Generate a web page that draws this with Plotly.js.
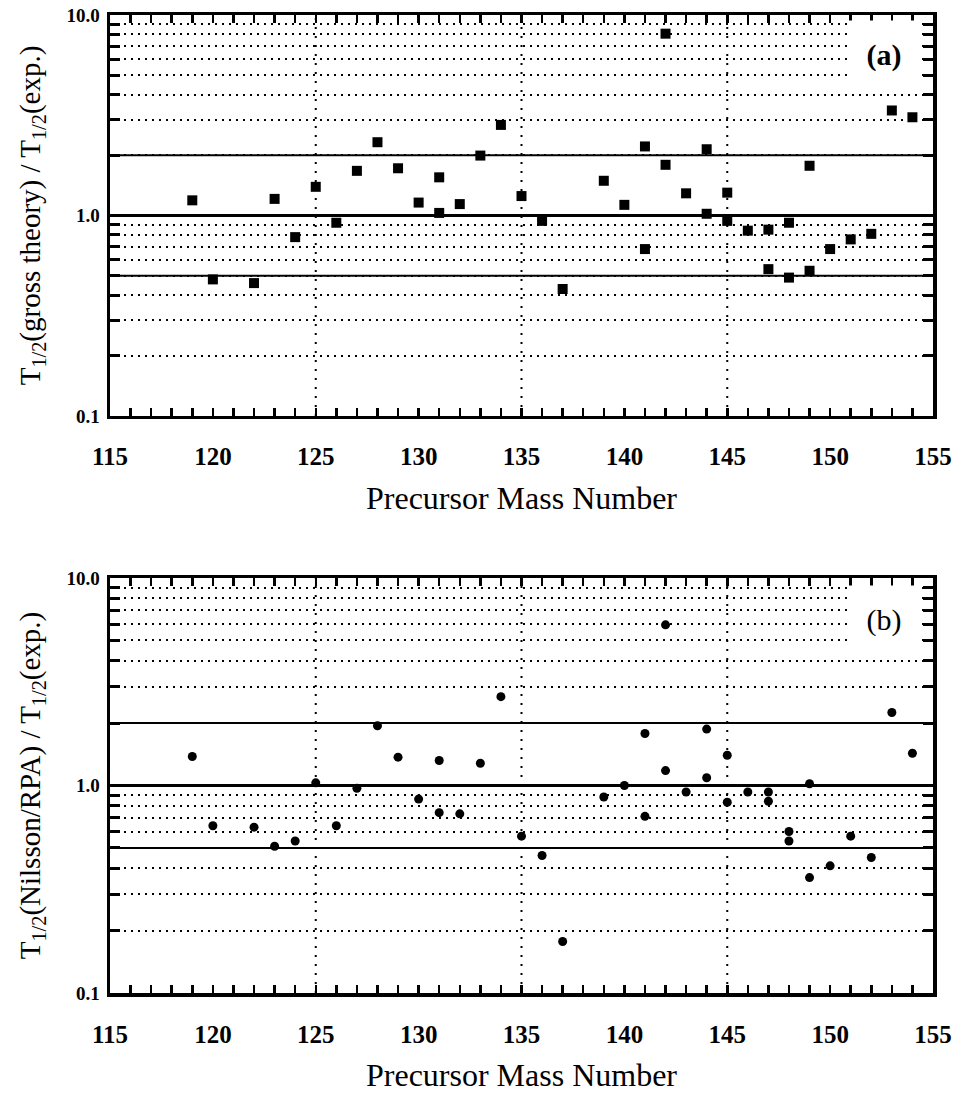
<!DOCTYPE html>
<html>
<head>
<meta charset="utf-8">
<script src="https://cdn.plot.ly/plotly-3.0.1.min.js"></script>
<style>html,body{margin:0;padding:0;background:#fff;}#chart{width:956px;height:1101px;}</style>
</head>
<body>
<div id="chart"></div>
<script>
// Panel (a): gross theory / experiment
const massA = [119,120,122,123,124,125,126,127,128,129,130,131,131,132,133,134,135,136,137,139,140,141,141,142,142,143,144,144,145,145,146,147,147,148,148,149,149,150,151,152,153,154];
const ratioA = [1.19,0.48,0.46,1.21,0.78,1.39,0.92,1.67,2.32,1.72,1.16,1.55,1.03,1.14,1.99,2.83,1.25,0.94,0.43,1.49,1.13,2.21,0.68,8.07,1.79,1.29,2.14,1.02,1.30,0.94,0.84,0.85,0.54,0.92,0.49,0.53,1.77,0.68,0.76,0.81,3.34,3.09];
// Panel (b): Nilsson/RPA / experiment
const massB = [119,120,122,123,124,125,126,127,128,129,130,131,131,132,133,134,135,136,137,139,140,141,141,142,142,143,144,144,145,145,146,147,147,148,148,149,149,150,151,152,153,154];
const ratioB = [1.38,0.64,0.63,0.51,0.54,1.03,0.64,0.97,1.94,1.37,0.86,0.74,1.32,0.73,1.28,2.68,0.57,0.46,0.177,0.88,1.0,1.78,0.71,5.95,1.18,0.93,1.87,1.09,1.40,0.83,0.93,0.93,0.84,0.60,0.54,1.02,0.36,0.41,0.57,0.45,2.25,1.43];

// tick positions and labels
const xTickVals = [];
const xTickText = [];
for (let m = 115; m <= 155; m++) { xTickVals.push(m); xTickText.push(m % 5 === 0 ? String(m) : ''); }
const yTickVals = [0.1,0.2,0.3,0.4,0.5,0.6,0.7,0.8,0.9,1,2,3,4,5,6,7,8,9,10];
const yTickText = yTickVals.map(v => v === 0.1 ? '0.1' : v === 1 ? '1.0' : v === 10 ? '10.0' : '');
const xGridVals = [125,135,145];
const refLevels = [0.5,1,2];
const refWidths = [2,3,2];

const serif = "'Liberation Serif', 'Times New Roman', Times, serif";

function xaxis(anchor){
  return {
    anchor: anchor, range:[115,155], tickmode:'array', tickvals:xTickVals, ticktext:xTickText,
    ticks:'inside', ticklen:8, tickwidth:2.5, tickcolor:'#000',
    showline:true, linewidth:3.5, linecolor:'#000', mirror:'ticks', showgrid:false, zeroline:false,
    tickfont:{family:serif, size:25, color:'#000', weight:'bold'},
    ticklabelstandoff: 16,
    title:{text:'Precursor Mass Number', font:{family:serif, size:32, color:'#000'}, standoff:18}
  };
}
function yaxis(domain, anchor, titleText){
  return {
    domain: domain, anchor: anchor, type:'log', range:[-1,1], tickmode:'array', tickvals:yTickVals, ticktext:yTickText,
    ticks:'inside', ticklen:10, tickwidth:3, tickcolor:'#000',
    showline:true, linewidth:3.5, linecolor:'#000', mirror:'ticks', zeroline:false,
    showgrid:true, gridcolor:'#000', gridwidth:2, griddash:'2px,5px',
    tickfont:{family:serif, size:19, color:'#000', weight:'bold'},
    ticklabelstandoff: 3,
    title:{text:titleText, font:{family:serif, size:29, color:'#000'}, standoff:18}
  };
}

const shapes = [];
[['x','y'],['x2','y2']].forEach(([xr,yr])=>{
  refLevels.forEach((lv,i)=>{
    shapes.push({type:'line', xref:xr+' domain', x0:0, x1:1, yref:yr, y0:lv, y1:lv, line:{color:'#000', width:refWidths[i]}, layer:'below'});
  });
  xGridVals.forEach(v=>{
    shapes.push({type:'line', xref:xr, x0:v, x1:v, yref:yr+' domain', y0:0, y1:1, line:{color:'#000', width:2, dash:'2px,7px'}, layer:'below'});
  });
});

const data = [
  {x:massA, y:ratioA, xaxis:'x', yaxis:'y', type:'scatter', mode:'markers', marker:{symbol:'square', size:10, color:'#000'}, showlegend:false},
  {x:massB, y:ratioB, xaxis:'x2', yaxis:'y2', type:'scatter', mode:'markers', marker:{symbol:'circle', size:9, color:'#000'}, showlegend:false}
];

const layout = {
  width:956, height:1101,
  margin:{l:110, r:23, t:15, b:108},
  paper_bgcolor:'#fff', plot_bgcolor:'#fff',
  showlegend:false,
  xaxis: xaxis('y'),
  yaxis: yaxis([0.59,1], 'x', 'T<sub>1/2</sub>(gross theory) / T<sub>1/2</sub>(exp.)'),
  xaxis2: xaxis('y2'),
  yaxis2: yaxis([0,0.4243], 'x2', 'T<sub>1/2</sub>(Nilsson/RPA) / T<sub>1/2</sub>(exp.)'),
  shapes: shapes,
  annotations:[
    {text:'(a)', xref:'x', yref:'y', x:152.6, y:Math.log10(6.3), showarrow:false, bgcolor:'#fff', borderpad:6,
     font:{family:serif, size:30, color:'#000', weight:'bold'}, width:60, height:56},
    {text:'(b)', xref:'x2', yref:'y2', x:152.6, y:Math.log10(6.3), showarrow:false, bgcolor:'#fff', borderpad:6,
     font:{family:serif, size:30, color:'#000'}, width:60, height:56}
  ]
};

Plotly.newPlot('chart', data, layout, {staticPlot:true, displayModeBar:false});
</script>
</body>
</html>
